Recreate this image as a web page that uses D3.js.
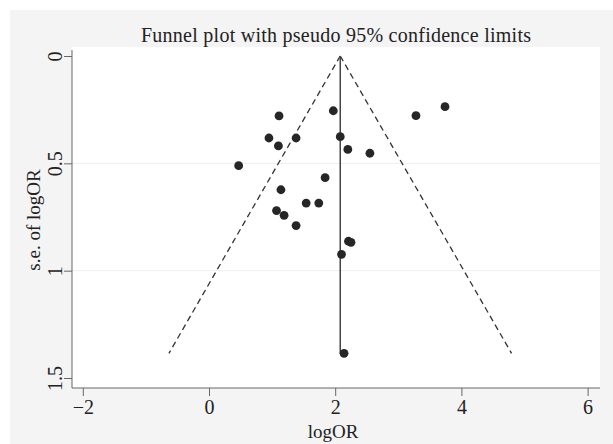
<!DOCTYPE html>
<html>
<head>
<meta charset="utf-8">
<script src="https://cdn.jsdelivr.net/npm/d3@7"></script>
<style>
  body { margin: 0; background: #fff; }
  text { font-family: "Liberation Serif", "DejaVu Serif", serif; fill: #222; }
</style>
</head>
<body>
<div id="chart"></div>
<script>
// study estimates
var logOR = [1.11, 1.97, 3.74, 3.28, 0.95, 1.38, 1.10, 2.08, 2.20, 2.55, 0.47,
             1.84, 1.14, 1.54, 1.74, 1.07, 1.19, 1.38, 2.21, 2.25, 2.10, 2.14];
var seLogOR = [0.279, 0.255, 0.236, 0.278, 0.382, 0.382, 0.419, 0.376, 0.435, 0.453, 0.511,
               0.567, 0.623, 0.685, 0.685, 0.72, 0.742, 0.79, 0.863, 0.868, 0.924, 1.385];
var pooled = 2.08;
var xTicks = [-2, 0, 2, 4, 6];
var yTicks = [0, 0.5, 1, 1.5];

var W = 613, H = 444;
var svg = d3.select('#chart').append('svg')
  .attr('width', W)
  .attr('height', H);

// outer gray frame + white plot region
svg.append('rect').attr('x', 10).attr('y', 10).attr('width', W - 10).attr('height', H - 10)
  .attr('fill', '#f4f4f4');
svg.append('rect').attr('x', 72).attr('y', 47).attr('width', 528).attr('height', 341)
  .attr('fill', '#fff');

var x = d3.scaleLinear().domain([-2, 6]).range([82.8, 587.6]);
var y = d3.scaleLinear().domain([0, 1.5]).range([56, 378]);

// faint grid
svg.append('g').selectAll('line')
  .data([0.5, 1])
  .enter().append('line')
  .attr('x1', 72).attr('x2', 600)
  .attr('y1', d => y(d)).attr('y2', d => y(d))
  .attr('stroke', '#f1efea').attr('stroke-width', 1);

// axes
var xAxis = svg.append('g')
  .attr('transform', 'translate(0,388)')
  .call(d3.axisBottom(x).tickValues(xTicks).tickSize(8).tickPadding(4)
    .tickFormat(d => d < 0 ? '\u2212' + Math.abs(d) : d));
xAxis.select('.domain').attr('d', 'M72,0H600').attr('stroke', '#666');
xAxis.selectAll('.tick line').attr('stroke', '#666');
xAxis.selectAll('.tick text').attr('font-size', 20).attr('fill', '#222');

var yAxis = svg.append('g')
  .attr('transform', 'translate(72,0)')
  .call(d3.axisLeft(y).tickValues(yTicks).tickSize(8).tickFormat(d => d));
yAxis.select('.domain').attr('d', 'M0,50V388').attr('stroke', '#666');
yAxis.selectAll('.tick line').attr('stroke', '#666');
yAxis.selectAll('.tick text')
  .attr('font-size', 20).attr('fill', '#222')
  .attr('x', null).attr('dy', null)
  .attr('text-anchor', 'middle')
  .attr('transform', 'translate(-10,0) rotate(-90)')
  .attr('y', 0);

// funnel
var maxSe = d3.max(seLogOR);
var funnel = svg.append('g');
[-1, 1].forEach(function(s) {
  funnel.append('line')
    .attr('x1', x(pooled)).attr('y1', y(0))
    .attr('x2', x(pooled + s * 1.96 * maxSe)).attr('y2', y(maxSe))
    .attr('stroke', '#333').attr('stroke-width', 1.3)
    .attr('stroke-dasharray', '6,4');
});
funnel.append('line')
  .attr('x1', x(pooled)).attr('x2', x(pooled))
  .attr('y1', y(0)).attr('y2', y(maxSe))
  .attr('stroke', '#444').attr('stroke-width', 1.5);

// studies
svg.append('g').selectAll('circle')
  .data(logOR.map((d, i) => [d, seLogOR[i]]))
  .enter().append('circle')
  .attr('cx', d => x(d[0]))
  .attr('cy', d => y(d[1]))
  .attr('r', 4.4)
  .attr('fill', '#262626');

// titles
svg.append('text')
  .attr('x', 336).attr('y', 42)
  .attr('text-anchor', 'middle')
  .attr('font-size', 20)
  .attr('textLength', 390)
  .text('Funnel plot with pseudo 95% confidence limits');

svg.append('text')
  .attr('x', 333).attr('y', 438)
  .attr('text-anchor', 'middle')
  .attr('font-size', 19)
  .text('logOR');

svg.append('text')
  .attr('transform', 'translate(40,220) rotate(-90)')
  .attr('text-anchor', 'middle')
  .attr('font-size', 19)
  .text('s.e. of logOR');
</script>
</body>
</html>
